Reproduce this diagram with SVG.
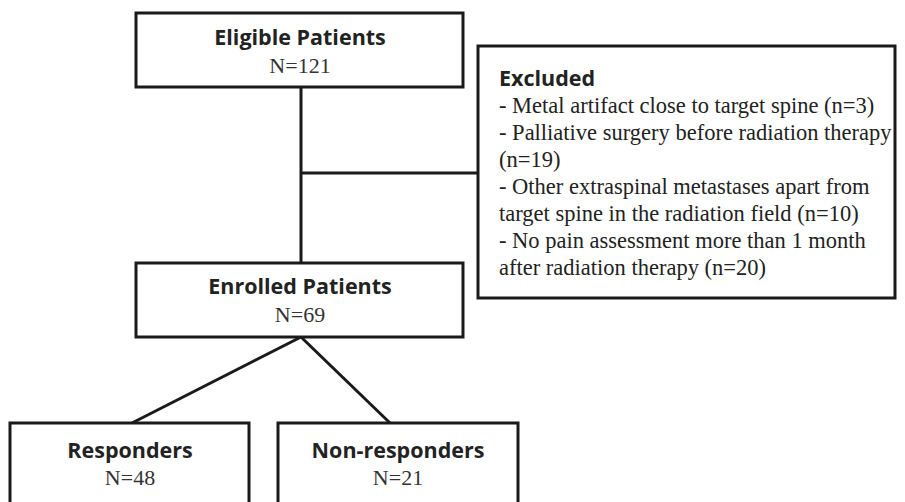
<svg xmlns="http://www.w3.org/2000/svg" width="905" height="502" viewBox="0 0 905 502">
<style>
.box{fill:#fff;stroke:#1a1a1a;stroke-width:3}
.ln{fill:none;stroke:#1a1a1a;stroke-width:3}
.h{font-family:"Open Sans","Liberation Sans",sans-serif;font-weight:bold;font-size:21.5px;fill:#222;text-anchor:middle}
.n{font-family:"Liberation Serif",serif;font-size:22px;fill:#333;text-anchor:middle}
.eh{font-family:"Open Sans","Liberation Sans",sans-serif;font-weight:bold;font-size:21.5px;fill:#222}
.t{font-family:"Liberation Serif",serif;font-size:22.5px;fill:#222}
</style>
<rect width="905" height="502" fill="#fff"/>
<g id="connectors">
<line class="ln" x1="301" y1="87" x2="301" y2="263"/>
<line class="ln" x1="301" y1="173" x2="478" y2="173"/>
<line class="ln" x1="301" y1="337" x2="132" y2="423"/>
<line class="ln" x1="301" y1="337" x2="390" y2="423"/>
</g>
<g id="eligible">
<rect class="box" x="136" y="13" width="327" height="74"/>
<text class="h" x="300" y="45">Eligible Patients</text>
<text class="n" x="300" y="73">N=121</text>
</g>
<g id="excluded">
<rect class="box" x="478" y="46" width="417" height="252"/>
<text class="eh" x="499" y="86">Excluded</text>
<text class="t" x="499" y="113">- Metal artifact close to target spine (n=3)</text>
<text class="t" x="499" y="140">- Palliative surgery before radiation therapy</text>
<text class="t" x="499" y="167">(n=19)</text>
<text class="t" x="499" y="194">- Other extraspinal metastases apart from</text>
<text class="t" x="499" y="221">target spine in the radiation field (n=10)</text>
<text class="t" x="499" y="248">- No pain assessment more than 1 month</text>
<text class="t" x="499" y="275">after radiation therapy (n=20)</text>
</g>
<g id="enrolled">
<rect class="box" x="136" y="263" width="327" height="74"/>
<text class="h" x="300" y="294">Enrolled Patients</text>
<text class="n" x="300" y="322">N=69</text>
</g>
<g id="responders">
<rect class="box" x="10" y="423" width="239" height="90"/>
<text class="h" x="130" y="458">Responders</text>
<text class="n" x="130" y="485">N=48</text>
</g>
<g id="nonresponders">
<rect class="box" x="278" y="423" width="240" height="90"/>
<text class="h" x="398" y="458">Non-responders</text>
<text class="n" x="398" y="485">N=21</text>
</g>
</svg>
